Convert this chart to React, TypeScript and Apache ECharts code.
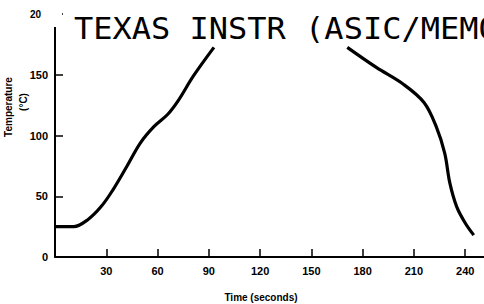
import React, { useEffect, useRef } from "react";
import * as echarts from "echarts";

const timeSec: number[] = [0, 5, 11, 19, 27, 34, 42, 50, 58, 66, 72, 81, 93, 171, 188, 204, 216, 223, 228, 231, 235, 240, 245];
const tempC: (number | null)[] = [25, 25, 25, 30.5, 41.5, 55.5, 74.5, 94, 107.5, 117.5, 128.5, 149, 172.5, 172.5, 156, 142, 127, 107.5, 85.5, 61, 41.5, 28, 18];
// gap where the trace is hidden behind the title
const gapAfter = 93;

const yTickLabels: Record<number, string> = { 0: "0", 50: "50", 100: "100", 150: "150", 200: "{top|20}" };
const titleText = "TEXAS INSTR (ASIC/MEMO";
const xName = "Time (seconds)";
const yName1 = "Temperature";
const yName2 = "(°C)";

export default function App() {
  const ref = useRef<HTMLDivElement>(null);
  useEffect(() => {
    if (!ref.current) return;
    const chart = echarts.init(ref.current, null, { renderer: "svg" });
    const data: any[] = [];
    timeSec.forEach((t, i) => {
      data.push([t, tempC[i]]);
      if (t === gapAfter) data.push([t + 1, null]);
    });
    const labelFont = { fontFamily: "Liberation Sans, Arial, sans-serif", fontWeight: "bold" as const, color: "#000" };
    chart.setOption({
      animation: false,
      backgroundColor: "#fff",
      grid: { left: 55, right: 0, top: 14, bottom: 47, containLabel: false },
      xAxis: {
        type: "value",
        min: 0,
        max: 251,
        interval: 30,
        axisLine: { lineStyle: { color: "#000", width: 2 } },
        axisTick: { inside: true, length: 8, lineStyle: { color: "#000", width: 1.5 } },
        splitLine: { show: false },
        axisLabel: { ...labelFont, fontSize: 11, margin: 8, showMinLabel: false, showMaxLabel: false },
      },
      yAxis: {
        type: "value",
        min: 0,
        max: 200,
        interval: 50,
        axisLine: { show: true, lineStyle: { color: "#000", width: 2 } },
        axisTick: { show: true, inside: true, length: 8, lineStyle: { color: "#000", width: 1.5 } },
        splitLine: { show: false },
        axisLabel: {
          ...labelFont,
          fontSize: 11,
          margin: 7,
          formatter: (v: number) => yTickLabels[v] ?? "",
          rich: { top: { ...labelFont, fontSize: 10, padding: [0, 7, 0, 0] } },
        },
      },
      series: [
        {
          type: "line",
          data,
          smooth: 0.35,
          connectNulls: false,
          showSymbol: false,
          lineStyle: { color: "#000", width: 3.2 },
        },
      ],
      graphic: [
        { type: "rect", z: 100, shape: { x: 50, y: 0, width: 12, height: 27 }, style: { fill: "#fff" } },
        {
          type: "text",
          z: 101,
          x: 74,
          y: 28,
          scaleY: 0.93,
          style: {
            text: titleText,
            font: "32px 'DejaVu Sans Mono', monospace",
            fill: "#000",
            verticalAlign: "middle",
            align: "left",
          },
        },
        {
          type: "text",
          z: 101,
          x: 8,
          y: 107,
          rotation: Math.PI / 2,
          style: { text: yName1, font: "bold 10px 'Liberation Sans', Arial, sans-serif", fill: "#000", align: "center", verticalAlign: "middle" },
        },
        {
          type: "text",
          z: 101,
          x: 23,
          y: 102,
          rotation: Math.PI / 2,
          style: { text: yName2, font: "bold 10px 'Liberation Sans', Arial, sans-serif", fill: "#000", align: "center", verticalAlign: "middle" },
        },
        {
          type: "text",
          z: 101,
          x: 261,
          y: 297,
          style: { text: xName, font: "bold 10px 'Liberation Sans', Arial, sans-serif", fill: "#000", align: "center", verticalAlign: "middle" },
        },
      ],
    });
    return () => chart.dispose();
  }, []);
  return <div ref={ref} style={{ position: "fixed", left: 0, top: 0, width: 484, height: 304 }} />;
}
